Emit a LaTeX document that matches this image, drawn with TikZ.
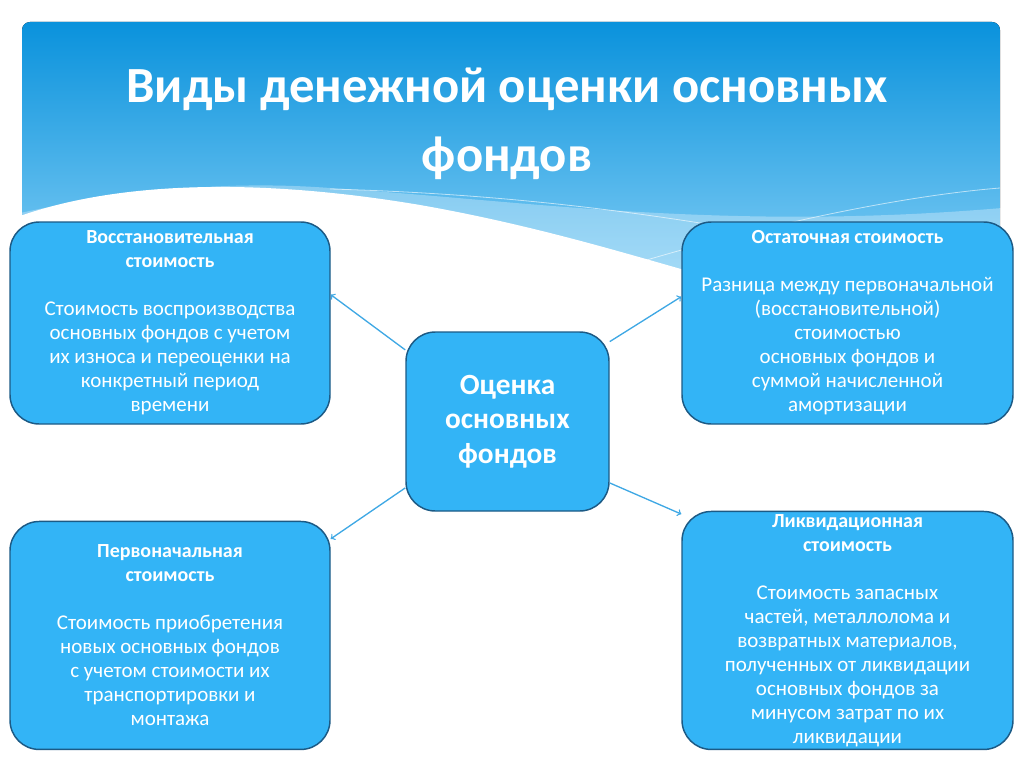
\documentclass[tikz,border=0pt]{standalone}
\usepackage{fontspec}
\setmainfont{Carlito}
\usetikzlibrary{positioning}
\definecolor{boxfill}{HTML}{33B4F6}
\definecolor{boxline}{HTML}{1C5A85}
\definecolor{arrowcol}{HTML}{3FA8E4}
\definecolor{bantop}{HTML}{0A92DC}
\definecolor{banbot}{HTML}{7CCBF4}
\newcommand{\hd}[1]{{\fontsize{15}{18}\selectfont\bfseries #1}}

\begin{document}
\begin{tikzpicture}
	[x=0.75pt,y=-0.75pt,>=to,
	kind/.style={rectangle,rounded corners=22pt,draw=boxline,line width=1.1pt,fill=boxfill,
		text=white,align=center,inner sep=0pt,font=\fontsize{15.75}{18}\selectfont},
	core/.style={kind,minimum width=152.25pt,minimum height=134.25pt,
		font=\fontsize{22}{26}\selectfont\bfseries},
	link/.style={->,draw=arrowcol,line width=1pt}]
	\useasboundingbox (0,0) rectangle (1024,767);
	% banner
	\fill[top color=bantop,bottom color=banbot,rounded corners=6pt] (22,22) rectangle (1000,274);
	\fill[white,opacity=.3] (20,213) .. controls (150,185) and (250,182) .. (330,188)
		.. controls (520,200) and (720,232) .. (1002,208) -- (1002,276) -- (20,276) -- cycle;
	\draw[white,opacity=.6,line width=.6pt] (330,189) .. controls (550,195) and (690,222) .. (770,234);
	\draw[white,opacity=.6,line width=.6pt] (640,262) .. controls (760,226) and (900,196) .. (1000,188);
	\fill[white] (20,216) .. controls (120,181) and (260,178) .. (420,205)
		.. controls (540,226) and (640,258) .. (706,276) -- (20,276) -- cycle;
	\node at (507,124) (title) [text=white,align=center,font=\fontsize{38}{52}\selectfont\bfseries]
		{Виды денежной оценки основных\\фондов};
	% boxes
	\node at (507.5,421.5) [core] (cbox) {Оценка\\основных\\фондов};
	\node at (170,323) [kind,minimum width=240pt,minimum height=151.5pt] (rest)
		{\hd{Восстановительная}\\\hd{стоимость}\\[18pt]
		Стоимость воспроизводства\\основных фондов с учетом\\их износа и переоценки на\\
		конкретный период\\времени};
	\node at (847.5,323) [kind,minimum width=248.25pt,minimum height=151.5pt] (resid)
		{\hd{Остаточная стоимость}\\[18pt]
		Разница между первоначальной\\(восстановительной)\\стоимостью\\основных фондов и\\
		суммой начисленной\\амортизации};
	\node [kind,minimum width=240pt,minimum height=171pt] (init) [below=72pt of rest]
		{\hd{Первоначальная}\\\hd{стоимость}\\[18pt]
		Стоимость приобретения\\новых основных фондов\\с учетом стоимости их\\
		транспортировки и\\монтажа};
	\node [kind,minimum width=248.25pt,minimum height=178.5pt] (liq) [below=64.5pt of resid]
		{\hd{Ликвидационная}\\\hd{стоимость}\\[18pt]
		Стоимость запасных\\частей, металлолома и\\возвратных материалов,\\
		полученных от ликвидации\\основных фондов за\\минусом затрат по их\\ликвидации};
	% arrows
	\draw [link] (cbox.145) -- (rest.10);
	\draw [link] (cbox.38) -- (resid.171);
	\draw [link] (cbox.213) -- (init.31);
	\draw [link] (cbox.-31) -- (liq.145);
\end{tikzpicture}
\end{document}
